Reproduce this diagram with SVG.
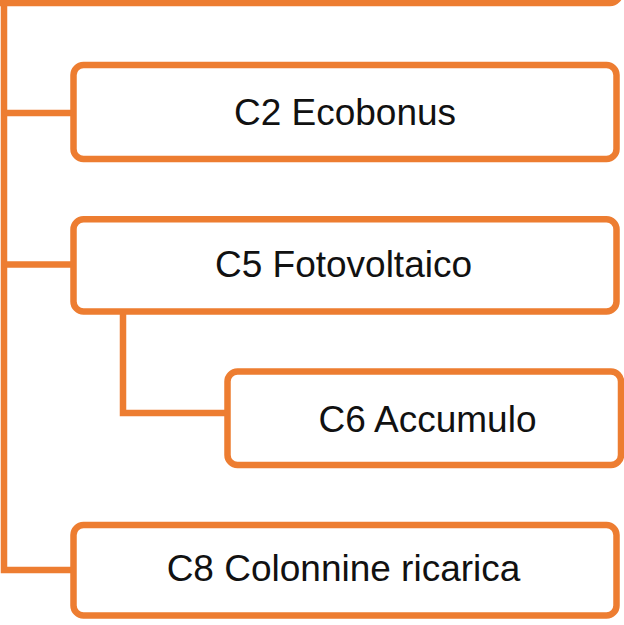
<svg xmlns="http://www.w3.org/2000/svg" width="624" height="625" viewBox="0 0 624 625">
<style>
.box{fill:#ffffff;stroke:#ED7D31;stroke-width:6.5}
.conn{fill:none;stroke:#ED7D31;stroke-width:6.5;stroke-linejoin:miter}
.lbl{font-family:"Liberation Sans",Arial,sans-serif;font-size:37px;fill:#111111;text-anchor:middle}
</style>
<rect width="624" height="625" fill="#ffffff"/>
<g id="connectors">
<path class="conn" d="M4,3 V570 H73.5"/>
<path class="conn" d="M4,113 H73.5"/>
<path class="conn" d="M4,264.5 H73.5"/>
<path class="conn" d="M123,311.5 V413 H227.5"/>
</g>
<g id="top">
<rect class="box" x="-30" y="-100" width="650" height="103" rx="10"/>
</g>
<g id="c2">
<rect class="box" x="73.5" y="65" width="543" height="94" rx="10"/>
<text class="lbl" x="345" y="125">C2 Ecobonus</text>
</g>
<g id="c5">
<rect class="box" x="73.5" y="219.3" width="543" height="92.2" rx="10"/>
<text class="lbl" x="343.5" y="277">C5 Fotovoltaico</text>
</g>
<g id="c6">
<rect class="box" x="227.5" y="371.5" width="393.5" height="93.5" rx="10"/>
<text class="lbl" x="427.5" y="431.5">C6 Accumulo</text>
</g>
<g id="c8">
<rect class="box" x="73.5" y="525" width="543" height="90.5" rx="10"/>
<text class="lbl" x="343.5" y="581">C8 Colonnine ricarica</text>
</g>
</svg>
